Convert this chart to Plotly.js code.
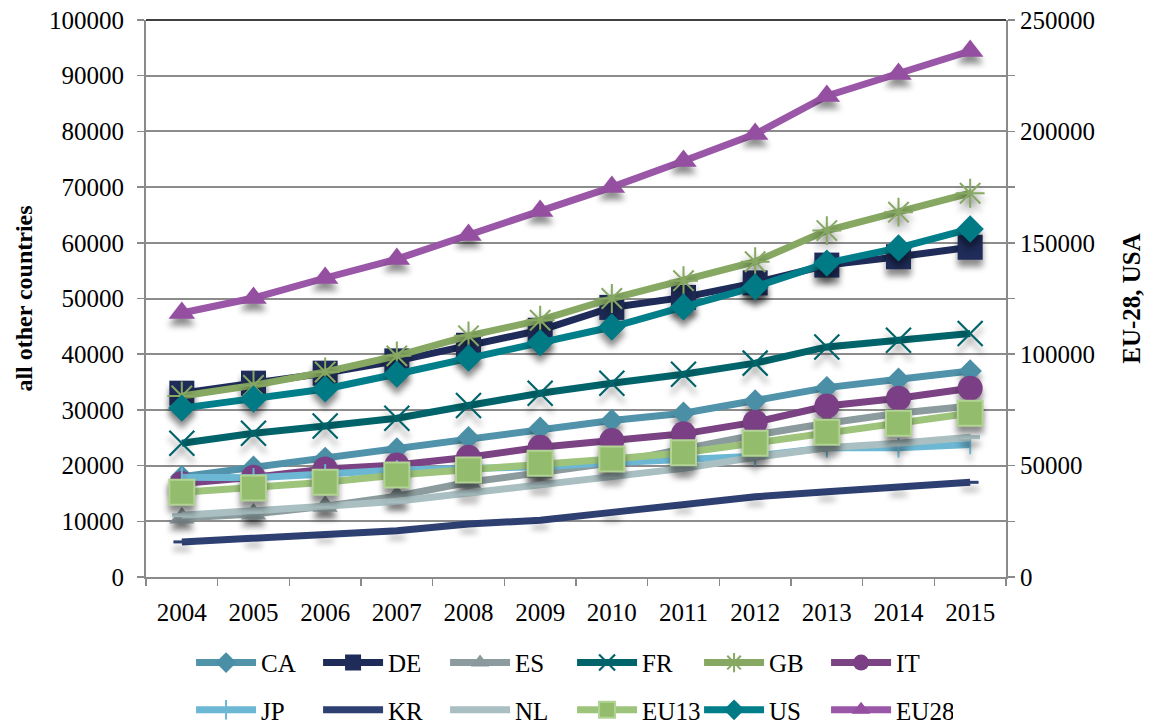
<!DOCTYPE html>
<html>
<head>
<meta charset="utf-8">
<script src="https://cdn.plot.ly/plotly-3.0.1.min.js"></script>
<style>
  html, body { margin: 0; padding: 0; background: #fff; }
  #chart { width: 1151px; height: 726px; }
  .scatterlayer .trace .points path { filter: drop-shadow(0px 7px 3px rgba(0,0,0,0.45)); }
</style>
</head>
<body>
<div id="chart"></div>
<script>
const years = ['2004','2005','2006','2007','2008','2009','2010','2011','2012','2013','2014','2015'];

const CA   = [18000, 19700, 21300, 23000, 25000, 26700, 28100, 29400, 31600, 34000, 35500, 37000];
const DE   = [33000, 34800, 36600, 38800, 41600, 44300, 48400, 50200, 52800, 56000, 57500, 59200];
const ES   = [10600, 11300, 12700, 14500, 17000, 18700, 20500, 23000, 25500, 27600, 29400, 30700];
const FR   = [24000, 25800, 27100, 28500, 30800, 33000, 34800, 36400, 38400, 41300, 42500, 43700];
const GB   = [32500, 34400, 36800, 39700, 43300, 46100, 50000, 53200, 56600, 62200, 65500, 68900];
const IT   = [16800, 17900, 19400, 20100, 21500, 23300, 24500, 25700, 27800, 30700, 32100, 33900];
const JP   = [17900, 17800, 18500, 19200, 19500, 19800, 20500, 21000, 21700, 23200, 23200, 23800];
const KR   = [6300, 7000, 7800, 8300, 9500, 10200, 11600, 13100, 14400, 15300, 16100, 17000];
const NL   = [11100, 11800, 12700, 13600, 15000, 16500, 18100, 19500, 21500, 23200, 24000, 25100];
const EU13 = [15200, 16000, 17000, 18300, 19200, 20400, 21200, 22300, 24000, 26000, 27600, 29400];
const US   = [75800, 79900, 84400, 91100, 98300, 105200, 112200, 121200, 130200, 140900, 147700, 156200];
const EU28 = [118500, 125200, 134200, 142700, 153500, 164300, 175000, 186700, 198800, 215900, 225800, 236100];

const rightTickVals = [0, 25000, 50000, 75000, 100000, 125000, 150000, 175000, 200000, 225000, 250000];
const rightTickText = ['0', '', '50000', '', '100000', '', '150000', '', '200000', '', '250000'];

const FONT = 'Liberation Serif';

function tr(name, y, color, marker, legend, yaxis) {
  return {
    type: 'scatter', mode: 'lines+markers', name: name, x: years, y: y,
    line: { color: color, width: 7 },
    marker: marker,
    legend: legend, yaxis: yaxis || 'y',
    cliponaxis: false
  };
}

const data = [
  tr('CA', CA, '#5093aa', { symbol: 'diamond', size: 18, color: '#4a8fa6' }, 'legend'),
  tr('DE', DE, '#1f2c59', { symbol: 'square', size: 25, color: '#1f2c59' }, 'legend'),
  tr('ES', ES, '#8c9b9d', { symbol: 'triangle-up', size: 22, color: '#8a999b' }, 'legend'),
  tr('FR', FR, '#00646a', { symbol: 'x-thin-open', size: 25, line: { width: 2.2, color: '#00646a' } }, 'legend'),
  tr('GB', GB, '#86a862', { symbol: 'asterisk-open', size: 24, line: { width: 2, color: '#86a862' } }, 'legend'),
  tr('IT', IT, '#7b4383', { symbol: 'circle', size: 25, color: '#7a3f84' }, 'legend'),
  tr('JP', JP, '#6cb7d3', { symbol: 'line-ns-open', size: 14, line: { width: 2, color: '#6cb7d3' } }, 'legend2'),
  tr('KR', KR, '#2e3f72', { symbol: 'line-ew-open', size: 12, line: { width: 3, color: '#3a4b7c' } }, 'legend2'),
  tr('NL', NL, '#a9bfc1', { symbol: 'line-ew-open', size: 14, line: { width: 4, color: '#9fb3b5' } }, 'legend2'),
  tr('EU13', EU13, '#9ec47b', { symbol: 'square', size: 25, color: '#93bd6c', line: { width: 2, color: '#b3d395' } }, 'legend2'),
  tr('US', US, '#007e89', { symbol: 'diamond', size: 21, color: '#007a85' }, 'legend2', 'y2'),
  tr('EU28', EU28, '#9a57a7', { symbol: 'triangle-up', size: 23, color: '#944fa1' }, 'legend2', 'y2')
];

const legendCommon = {
  orientation: 'h', xanchor: 'left', yanchor: 'middle',
  xref: 'container', yref: 'container',
  font: { family: FONT, size: 25, color: '#000' },
  entrywidth: 52, entrywidthmode: 'pixels',
  itemwidth: 60, tracegroupgap: 0,
  bgcolor: 'rgba(0,0,0,0)'
};

const layout = {
  width: 1151, height: 726,
  margin: { l: 146, r: 145, t: 20, b: 149, autoexpand: false },
  paper_bgcolor: '#fff', plot_bgcolor: '#fff',
  font: { family: FONT, size: 24, color: '#000' },
  showlegend: true,
  legend: Object.assign({}, legendCommon, { x: 0.166, y: 0.087 }),
  legend2: Object.assign({}, legendCommon, { x: 0.166, y: 0.022 }),
  xaxis: {
    type: 'category', range: [-0.5, 11.5],
    showgrid: false, showline: true, linecolor: '#8a8a8a', linewidth: 2,
    ticks: 'outside', tickson: 'boundaries', ticklen: 7, tickcolor: '#8a8a8a', tickwidth: 1.5,
    tickfont: { family: FONT, size: 25, color: '#000' }, ticklabelstandoff: 12,
    zeroline: false, fixedrange: true
  },
  yaxis: {
    range: [0, 100000], dtick: 10000, tick0: 0,
    showgrid: true, gridcolor: '#8c8c8c', gridwidth: 2,
    showline: true, linecolor: '#8a8a8a', linewidth: 2,
    ticks: 'outside', ticklen: 7, tickcolor: '#8a8a8a', tickwidth: 1.5,
    tickfont: { family: FONT, size: 25, color: '#000' }, ticklabelstandoff: 8,
    title: { text: '<b>all other countries</b>', font: { family: FONT, size: 24, color: '#000' }, standoff: 10 },
    zeroline: false, tickformat: 'd'
  },
  yaxis2: {
    overlaying: 'y', side: 'right', range: [0, 250000],
    tickmode: 'array', tickvals: rightTickVals, ticktext: rightTickText,
    showgrid: false, showline: true, linecolor: '#8a8a8a', linewidth: 2,
    ticks: 'outside', ticklen: 7, tickcolor: '#8a8a8a', tickwidth: 1.5,
    tickfont: { family: FONT, size: 25, color: '#000' },
    title: { text: '<b>EU-28, USA</b>', font: { family: FONT, size: 25, color: '#000' }, standoff: 28 },
    zeroline: false
  },
  shapes: [
    { type: 'line', xref: 'paper', yref: 'paper', x0: 0, x1: 1, y0: 1, y1: 1, line: { color: '#000', width: 1.5 } }
  ]
};

Plotly.newPlot('chart', data, layout, { displayModeBar: false, staticPlot: true });
</script>
</body>
</html>
